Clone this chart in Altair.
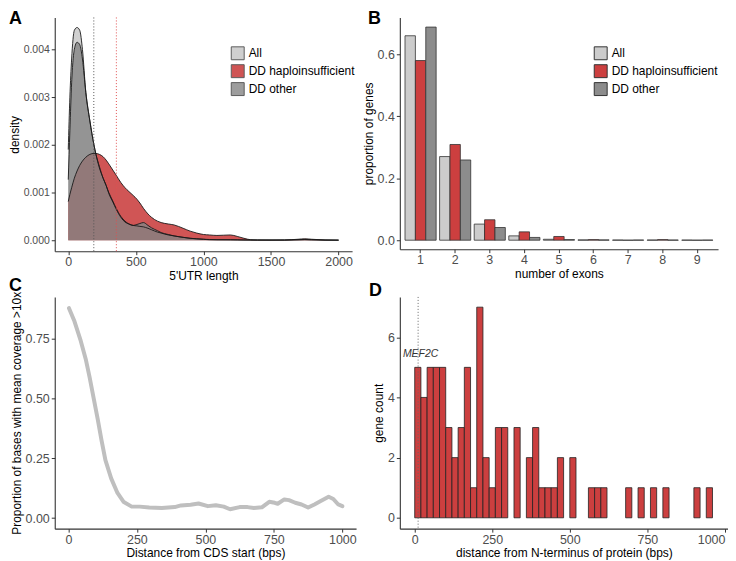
import altair as alt
import pandas as pd

FONT = "Liberation Sans"

groups = ["All", "DD haploinsufficient", "DD other"]
area_fill = ["#c4c4c4", "#c42a2a", "#858585"]
bar_fill = ["#cccccc", "#cc3f3f", "#8c8c8c"]

# ---------- Panel A: 5'UTR length densities ----------
utr_len = [0, 12, 25, 45, 65, 85, 105, 130, 160, 190, 205, 230, 258, 280, 300, 330, 353,
           389, 420, 449, 480, 508, 530, 556, 590, 616, 660, 687, 740, 783, 850, 902,
           950, 1000, 1045, 1100, 1200, 1250, 1300, 1350, 1400, 1500, 1600, 1700, 1750,
           1800, 1900, 2000]
dens_all = [0.0019, 0.0030, 0.0038, 0.0044, 0.00446, 0.0044, 0.0040, 0.0031, 0.0025,
            0.0020, 0.0018, 0.00155, 0.0013, 0.00115, 0.0010, 0.00082, 0.00068, 0.0005,
            0.0004, 0.00034, 0.00031, 0.0003, 0.00029, 0.00028, 0.00025, 0.00022,
            0.00017, 0.00015, 0.00011, 0.00009, 0.00006, 0.00004, 0.00003, 0.00002,
            0.000015, 0.00001, 0.00001, 0.000008, 0.000005, 0.000004, 0.000003,
            0.000003, 0.000003, 0.00001, 0.000015, 0.00001, 0.000003, 0.000001]
dens_ddh = [0.00081, 0.00096, 0.0011, 0.0013, 0.00145, 0.00157, 0.00166, 0.00174,
            0.0018, 0.00182, 0.00182, 0.0018, 0.00175, 0.00168, 0.0016, 0.00147,
            0.00137, 0.00121, 0.0011, 0.00102, 0.00094, 0.00086, 0.00078, 0.00067,
            0.00055, 0.00048, 0.0004, 0.00037, 0.00034, 0.00032, 0.00025, 0.00019,
            0.00015, 0.00012, 0.00011, 0.0001, 0.00011, 0.00008, 0.00004, 0.00001,
            0.000005, 0.000003, 0.000005, 0.00002, 0.00003, 0.00002, 0.000005, 0.000001]
dens_ddo = [0.00127, 0.0023, 0.0033, 0.0040, 0.00415, 0.0041, 0.0038, 0.0031, 0.0025,
            0.0020, 0.0018, 0.00152, 0.0013, 0.00115, 0.00098, 0.0008, 0.00066, 0.00048,
            0.00038, 0.00034, 0.00031, 0.00033, 0.00035, 0.00037, 0.00031, 0.00026,
            0.0002, 0.00016, 0.00012, 0.00009, 0.00006, 0.00004, 0.00003, 0.00002,
            0.00001, 0.00001, 0.000008, 0.000006, 0.000004, 0.000003, 0.000003,
            0.000003, 0.000003, 0.000008, 0.00001, 0.000008, 0.000003, 0.000001]
utr_median_other = 189
utr_median_hi = 356

# ---------- Panel B: exon counts ----------
exon_n = [1, 2, 3, 4, 5, 6, 7, 8, 9]
prop_all = [0.660, 0.270, 0.052, 0.014, 0.003, 0.001, 0.0006, 0.0006, 0.0004]
prop_ddh = [0.580, 0.309, 0.066, 0.027, 0.012, 0.002, 0.0, 0.002, 0.0]
prop_ddo = [0.688, 0.259, 0.041, 0.009, 0.002, 0.001, 0.0006, 0.0006, 0.0004]

# ---------- Panel C: coverage ----------
cov_pos = [2, 22, 45, 63, 77, 92, 107, 121, 135, 156, 179, 202, 231, 260, 295, 341, 388,
           411, 446, 475, 509, 538, 567, 590, 625, 654, 677, 706, 733, 753, 764, 788, 805,
           828, 851, 875, 898, 921, 950, 967, 985, 1000]
cov_prop = [0.877, 0.822, 0.740, 0.665, 0.590, 0.501, 0.412, 0.324, 0.242, 0.166, 0.105,
            0.067, 0.048, 0.048, 0.044, 0.042, 0.046, 0.053, 0.056, 0.061, 0.050, 0.054,
            0.048, 0.037, 0.046, 0.046, 0.042, 0.045, 0.068, 0.064, 0.060, 0.078, 0.075,
            0.064, 0.057, 0.044, 0.057, 0.071, 0.089, 0.080, 0.057, 0.050]

# ---------- Panel D: histogram (bin width 20) ----------
bin_width = 20
hist_counts = [5, 4, 5, 5, 5, 3, 2, 3, 5, 1,
               7, 2, 1, 3, 3, 0, 3, 0, 2, 3,
               1, 1, 1, 2, 0, 2, 0, 0, 1, 1,
               1, 0, 0, 0, 1, 0, 1, 0, 1, 0,
               1, 0, 0, 0, 0, 1, 0, 1]
mef2c_pos = 11
mef2c_label = "MEF2C"
mef2c_label_x = 19
mef2c_label_y = 5.45


def letter(t, dx, offset):
    return alt.TitleParams(text=t, anchor="start", frame="group", baseline="top",
                           offset=offset, dx=dx, fontSize=18, fontWeight="bold",
                           font=FONT, color="black")


def legend(x, y, opacity):
    return alt.Legend(title=None, orient="none", legendX=x, legendY=y,
                      symbolType="square", symbolSize=169, symbolStrokeColor="#333333",
                      symbolStrokeWidth=1, symbolOpacity=opacity, labelFontSize=12,
                      labelFont=FONT, labelColor="black", rowPadding=0, labelOffset=4,
                      padding=0)


XAX = dict(tickSize=3.5, labelPadding=1, titlePadding=2, labelAngle=0)
YAX = dict(tickSize=3.5, labelPadding=2, titlePadding=2)

# Panel A
dfA = pd.DataFrame({
    "len": utr_len * 3,
    "density": dens_all + dens_ddh + dens_ddo,
    "group": [g for g in groups for _ in utr_len],
})
xA = alt.X("len:Q", scale=alt.Scale(domain=[-100, 2100], nice=False, zero=False),
           axis=alt.Axis(title="5'UTR length", values=[0, 500, 1000, 1500, 2000],
                         format="d", **XAX))
yA = alt.Y("density:Q", stack=False,
           scale=alt.Scale(domain=[-0.00023, 0.00467], nice=False, zero=False),
           axis=alt.Axis(title="density", values=[0, 0.001, 0.002, 0.003, 0.004],
                         format=".3f", labelFontSize=10.5, **YAX))
areaA = alt.Chart(dfA).mark_area(fillOpacity=0.8, interpolate="monotone").encode(
    x=xA, y=yA,
    color=alt.Color("group:N", scale=alt.Scale(domain=groups, range=area_fill),
                    legend=legend(177, 29, 0.8)),
)
lineA = alt.Chart(dfA).mark_line(color="#1a1a1a", strokeWidth=0.9,
                                 interpolate="monotone").encode(
    x="len:Q", y="density:Q", detail="group:N")
medA1 = alt.Chart(pd.DataFrame({"len": [utr_median_other]})).mark_rule(
    color="#555555", strokeDash=[1, 2], strokeWidth=1).encode(x="len:Q")
medA2 = alt.Chart(pd.DataFrame({"len": [utr_median_hi]})).mark_rule(
    color="#e05050", strokeDash=[1, 2], strokeWidth=1).encode(x="len:Q")
chartA = alt.layer(areaA, lineA, medA1, medA2).properties(
    width=299, height=235, title=letter("A", -46, -11))

# Panel B
dfB = pd.DataFrame({
    "exons": exon_n * 3,
    "prop": prop_all + prop_ddh + prop_ddo,
    "group": [g for g in groups for _ in exon_n],
})
chartB = alt.Chart(dfB).mark_bar(stroke="#333333", strokeWidth=0.8).encode(
    x=alt.X("exons:O", scale=alt.Scale(paddingInner=0.1, paddingOuter=0.15),
            axis=alt.Axis(title="number of exons", **XAX)),
    xOffset=alt.XOffset("group:N", scale=alt.Scale(domain=groups)),
    y=alt.Y("prop:Q", stack=False,
            scale=alt.Scale(domain=[-0.029, 0.719], nice=False, zero=False),
            axis=alt.Axis(title="proportion of genes", values=[0, 0.2, 0.4, 0.6],
                          format=".1f", **YAX)),
    color=alt.Color("group:N", scale=alt.Scale(domain=groups, range=bar_fill),
                    legend=legend(195, 29, 1)),
).properties(width=320, height=233, title=letter("B", -32, -11))

# Panel C
dfC = pd.DataFrame({"pos": cov_pos, "prop": cov_prop})
chartC = alt.Chart(dfC).mark_line(color="#bfbfbf", strokeWidth=4, strokeCap="round",
                                  strokeJoin="round").encode(
    x=alt.X("pos:Q", scale=alt.Scale(domain=[-50, 1050], nice=False, zero=False),
            axis=alt.Axis(title="Distance from CDS start (bps)",
                          values=[0, 250, 500, 750, 1000], format="d", **XAX)),
    y=alt.Y("prop:Q", scale=alt.Scale(domain=[-0.044, 0.924], nice=False, zero=False),
            axis=alt.Axis(title="Proportion of bases with mean coverage >10x",
                          values=[0, 0.25, 0.5, 0.75], format=".2f", **YAX)),
).properties(width=303, height=233, title=letter("C", -46, -4))

# Panel D
dfD = pd.DataFrame({
    "start": [i * bin_width for i in range(len(hist_counts))],
    "count": hist_counts,
})
dfD["end"] = dfD["start"] + bin_width
dfD = dfD[dfD["count"] > 0]
xD = alt.X("start:Q", scale=alt.Scale(domain=[-48, 1010], nice=False, zero=False),
           axis=alt.Axis(title="distance from N-terminus of protein (bps)",
                         values=[0, 250, 500, 750, 1000], format="d", labelFlush=6,
                         **XAX))
yD = alt.Y("count:Q", scale=alt.Scale(domain=[-0.36, 7.34], nice=False, zero=False),
           axis=alt.Axis(title="gene count", values=[0, 2, 4, 6], format="d", **YAX))
barsD = alt.Chart(dfD).mark_bar(color="#cc3f3f", stroke="#222222",
                                strokeWidth=0.8).encode(
    x=xD, x2="end:Q", y=yD, y2=alt.datum(0))
ruleD = alt.Chart(pd.DataFrame({"start": [mef2c_pos]})).mark_rule(
    color="#666666", strokeDash=[1, 2], strokeWidth=1).encode(x="start:Q")
textD = alt.Chart(pd.DataFrame({"start": [mef2c_label_x], "count": [mef2c_label_y],
                                "label": [mef2c_label]})).mark_text(
    font=FONT, fontStyle="italic", fontSize=10.5, color="#333333").encode(
    x="start:Q", y="count:Q", text="label:N")
chartD = alt.layer(barsD, ruleD, textD).properties(
    width=330, height=233, title=letter("D", -31, -4))

chart = alt.concat(
    chartA, chartB, chartC, chartD, columns=2,
    spacing={"row": 46, "column": 44}, bounds="flush",
).resolve_scale(color="independent").properties(
    padding={"left": 0, "right": 0, "top": 0, "bottom": 0}
).configure_view(strokeWidth=0).configure_axis(
    grid=False, domainColor="#333333", domainWidth=1.1, tickColor="#333333",
    tickWidth=1, labelColor="#4d4d4d", labelFont=FONT, labelFontSize=12.5,
    titleFont=FONT, titleFontSize=12, titleFontWeight="normal", titleColor="black",
)

chart.save("out.html", embed_options={"renderer": "svg", "actions": False})
